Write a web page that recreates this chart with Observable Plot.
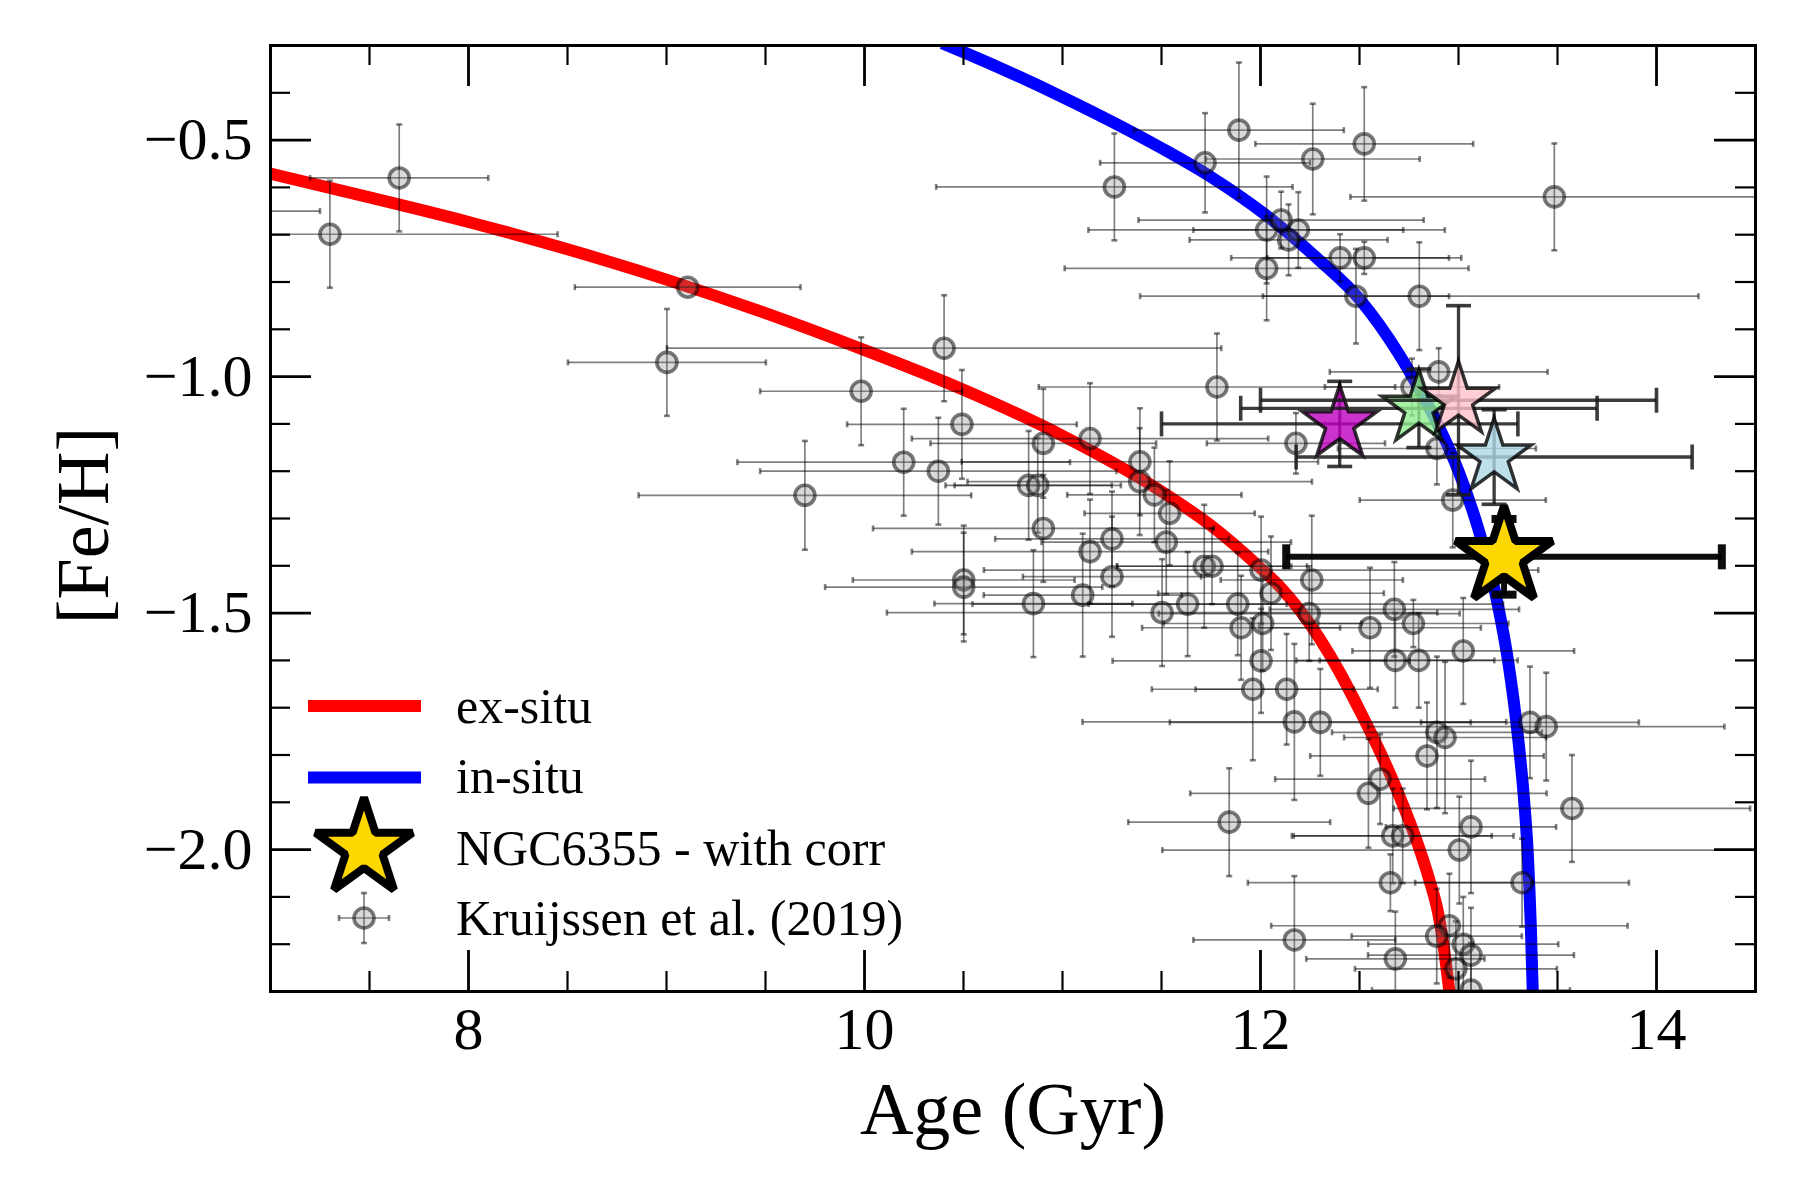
<!DOCTYPE html>
<html>
<head>
<meta charset="utf-8">
<script src="https://cdn.jsdelivr.net/npm/d3@7"></script>
<script src="https://cdn.jsdelivr.net/npm/@observablehq/plot@0.6"></script>
<style>
  html, body { margin: 0; padding: 0; background: #ffffff; }
  #chart { width: 1800px; height: 1200px; }
</style>
</head>
<body>
<div id="chart"></div>
<script>
// ---------------- DATA ----------------
// Age-metallicity relations
const exsituAge = [7.0, 7.5, 8.0, 8.5, 9.0, 9.5, 10.0, 10.5, 11.0, 11.5, 11.75, 12.0, 12.1, 12.2, 12.3, 12.4, 12.5, 12.6, 12.7, 12.8, 12.85, 12.9, 12.925, 12.954];
const exsituFeH = [-0.571, -0.621, -0.673, -0.731, -0.795, -0.866, -0.944, -1.028, -1.125, -1.243, -1.315, -1.405, -1.445, -1.495, -1.555, -1.625, -1.705, -1.790, -1.885, -1.995, -2.060, -2.140, -2.205, -2.300];

const insituAge = [10.42, 10.5, 11.0, 11.5, 11.75, 12.0, 12.3, 12.5, 12.7, 12.8, 12.9, 13.0, 13.1, 13.2, 13.25, 13.3, 13.33, 13.35, 13.365, 13.375];
const insituFeH = [-0.300, -0.314, -0.409, -0.517, -0.578, -0.650, -0.755, -0.836, -0.953, -1.025, -1.105, -1.200, -1.322, -1.485, -1.600, -1.760, -1.889, -2.009, -2.159, -2.300];

// Kruijssen et al. (2019) globular clusters
const krAge = [7.65, 7.30, 6.55, 9.107, 9.002, 9.983, 10.198, 9.699, 11.891, 11.720, 12.264, 12.524, 11.262, 12.031, 12.191, 12.104, 12.142, 12.031, 12.402, 12.524, 12.482, 12.802, 10.402, 11.780, 13.484, 10.492, 10.373, 10.903, 11.139, 11.391, 11.390, 11.464, 11.541, 11.524, 10.903, 10.829, 10.875, 11.139, 11.250, 10.501, 10.501, 10.853, 11.102, 11.250, 11.716, 11.755, 11.632, 11.503, 11.885, 11.902, 12.011, 12.003, 12.053, 12.246, 12.259, 12.003, 12.179, 12.900, 12.765, 12.891, 12.971, 12.676, 12.772, 12.553, 13.024, 12.681, 12.799, 11.961, 12.132, 12.171, 12.302, 11.842, 12.171, 13.361, 13.443, 12.891, 12.932, 12.841, 12.604, 12.545, 13.573, 13.063, 12.668, 12.718, 13.004, 12.656, 13.321, 12.954, 12.890, 13.024, 13.063, 12.681, 12.987, 13.063];
const krFeH = [-0.580, -0.699, -0.650, -0.811, -0.970, -1.031, -1.181, -1.251, -0.479, -0.548, -0.540, -0.508, -0.599, -0.690, -0.690, -0.669, -0.711, -0.771, -0.749, -0.749, -0.830, -0.830, -0.940, -1.022, -0.620, -1.101, -1.200, -1.141, -1.131, -1.180, -1.222, -1.250, -1.289, -1.350, -1.321, -1.230, -1.230, -1.370, -1.423, -1.430, -1.445, -1.480, -1.462, -1.343, -1.401, -1.401, -1.481, -1.499, -1.481, -1.531, -1.522, -1.409, -1.458, -1.501, -1.430, -1.601, -1.141, -0.990, -1.022, -1.152, -1.261, -1.492, -1.522, -1.531, -1.580, -1.600, -1.600, -1.661, -1.661, -1.730, -1.731, -1.942, -2.191, -1.731, -1.740, -1.752, -1.763, -1.802, -1.851, -1.881, -1.913, -1.952, -1.971, -1.971, -2.001, -2.070, -2.070, -2.161, -2.183, -2.200, -2.223, -2.231, -2.252, -2.297];
const krAgeErr = [0.45, 1.15, 0.70, 0.57, 0.50, 0.51, 0.84, 0.84, 0.53, 0.53, 0.54, 0.55, 0.90, 0.90, 0.53, 0.72, 0.50, 1.02, 0.55, 0.49, 0.47, 1.41, 1.40, 0.90, 1.03, 0.58, 0.90, 0.57, 0.90, 0.90, 0.87, 0.44, 0.43, 0.63, 0.86, 0.42, 0.42, 0.90, 0.45, 0.56, 0.70, 0.50, 0.50, 0.59, 0.44, 0.48, 0.50, 1.39, 1.34, 0.50, 0.50, 1.40, 0.57, 0.76, 0.46, 0.75, 0.45, 0.55, 0.44, 0.50, 0.47, 0.63, 0.48, 0.56, 0.56, 0.50, 0.50, 0.51, 0.46, 1.07, 0.76, 0.51, 0.51, 0.55, 0.90, 0.53, 0.51, 0.59, 0.53, 0.90, 0.90, 0.43, 0.50, 0.56, 1.50, 0.72, 0.54, 0.90, 0.43, 0.48, 0.52, 0.45, 0.51, 0.50];
const krFeHErr = [0.113, 0.113, 0.11, 0.0, 0.113, 0.114, 0.113, 0.115, 0.143, 0.105, 0.117, 0.12, 0.113, 0.113, 0.08, 0.06, 0.075, 0.11, 0.05, 0.034, 0.10, 0.114, 0.112, 0.113, 0.113, 0.115, 0.113, 0.115, 0.117, 0.113, 0.113, 0.10, 0.11, 0.11, 0.113, 0.115, 0.10, 0.11, 0.127, 0.115, 0.115, 0.113, 0.13, 0.10, 0.13, 0.08, 0.11, 0.113, 0.108, 0.11, 0.10, 0.113, 0.12, 0.10, 0.136, 0.11, 0.064, 0.05, 0.06, 0.076, 0.10, 0.10, 0.05, 0.127, 0.112, 0.10, 0.10, 0.15, 0.117, 0.165, 0.113, 0.114, 0.135, 0.118, 0.114, 0.16, 0.16, 0.113, 0.095, 0.115, 0.113, 0.14, 0.10, 0.10, 0.113, 0.06, 0.093, 0.11, 0.10, 0.10, 0.10, 0.10, 0.10, 0.10];

// Star symbols (last one is NGC6355, the highlighted cluster)
const starLabels = ["magenta", "green", "pink", "lightblue", "NGC6355 - with corr"];
const starAge = [12.40, 12.80, 13.00, 13.18, 13.23];
const starFeH = [-1.100, -1.067, -1.050, -1.170, -1.381];
const starAgeErr = [0.90, 0.90, 1.00, 1.00, 1.10];
const starFeHErr = [0.09, 0.083, 0.20, 0.10, 0.08];

// Axes
const xDomain = [7, 14.5];
const yDomain = [-2.3, -0.3];
const xMajorTicks = [8, 10, 12, 14];
const xMinorTicks = [7.5, 8.5, 9, 9.5, 10.5, 11, 11.5, 12.5, 13, 13.5];
const yMajorTicks = [-2.0, -1.5, -1.0, -0.5];
const yMinorTicks = [-2.2, -2.1, -1.9, -1.8, -1.7, -1.6, -1.4, -1.3, -1.2, -1.1, -0.9, -0.8, -0.7, -0.6, -0.4];
const xLabel = "Age (Gyr)";
const yLabel = "[Fe/H]";
const legendLabels = ["ex-situ", "in-situ", "NGC6355 - with corr", "Kruijssen et al. (2019)"];

// ---------------- STYLE ----------------
const FONT = "'Liberation Serif', 'Times New Roman', serif";
const W = 1800, H = 1200;
const M = {left: 270, right: 45, top: 45, bottom: 209};
const plotW = W - M.left - M.right;
const plotH = H - M.top - M.bottom;
const starColors = ["#bf00bf", "#90ee90", "#ffc0cb", "#add8e6", "#ffd700"];
const LINE_W = 12;

// ---------------- BUILD ----------------
const exsitu = exsituAge.map((a, i) => ({age: a, feh: exsituFeH[i]}));
const insitu = insituAge.map((a, i) => ({age: a, feh: insituFeH[i]}));
const kr = krAge.map((a, i) => ({age: a, feh: krFeH[i], xe: krAgeErr[i], ye: krFeHErr[i]}));
const stars = starAge.map((a, i) => ({age: a, feh: starFeH[i], xe: starAgeErr[i], ye: starFeHErr[i], label: starLabels[i], color: starColors[i]}));

const vCap = {draw(ctx, size) { const h = Math.sqrt(size / Math.PI); ctx.moveTo(0, -h); ctx.lineTo(0, h); }};
const hCap = {draw(ctx, size) { const h = Math.sqrt(size / Math.PI); ctx.moveTo(-h, 0); ctx.lineTo(h, 0); }};

function errorBars(data, s) {
  const withY = data.filter(d => d.ye > 0);
  const common = {stroke: s.stroke, strokeOpacity: s.opacity, clip: true};
  return [
    Plot.link(data, {x1: d => d.age - d.xe, x2: d => d.age + d.xe, y1: "feh", y2: "feh", strokeWidth: s.width, ...common}),
    Plot.link(withY, {x1: "age", x2: "age", y1: d => d.feh - d.ye, y2: d => d.feh + d.ye, strokeWidth: s.width, ...common}),
    Plot.dot(data, {x: d => d.age - d.xe, y: "feh", symbol: vCap, r: s.cap, fill: "none", strokeWidth: s.capW, ...common}),
    Plot.dot(data, {x: d => d.age + d.xe, y: "feh", symbol: vCap, r: s.cap, fill: "none", strokeWidth: s.capW, ...common}),
    Plot.dot(withY, {x: "age", y: d => d.feh - d.ye, symbol: hCap, r: s.cap, fill: "none", strokeWidth: s.capW, ...common}),
    Plot.dot(withY, {x: "age", y: d => d.feh + d.ye, symbol: hCap, r: s.cap, fill: "none", strokeWidth: s.capW, ...common})
  ];
}

const STAR_R = 23.3, GOLD_R = 30.5;
const starMarks = stars.flatMap((s, i) => {
  const gold = i === stars.length - 1;
  return [
    ...errorBars([s], gold
      ? {stroke: "#000", opacity: 0.95, width: 6, cap: 12.5, capW: 8}
      : {stroke: "#1a1a1a", opacity: 0.85, width: 3.3, cap: 12.5, capW: 3.6}),
    Plot.dot([s], {x: "age", y: "feh", symbol: "star", r: gold ? GOLD_R : STAR_R,
      fill: s.color, fillOpacity: gold ? 1 : 0.8,
      stroke: "#000", strokeOpacity: gold ? 1 : 0.8, strokeWidth: gold ? 8 : 3.5,
      strokeLinejoin: gold ? "bevel" : "miter", clip: true})
  ];
});

const chart = Plot.plot({
  width: W, height: H,
  marginLeft: M.left, marginRight: M.right, marginTop: M.top, marginBottom: M.bottom,
  style: {fontFamily: FONT, background: "#ffffff", color: "#000"},
  x: {domain: xDomain, axis: null},
  y: {domain: yDomain, axis: null},
  marks: [
    Plot.line(exsitu, {x: "age", y: "feh", stroke: "#ff0000", strokeWidth: LINE_W, curve: "monotone-x", strokeLinecap: "square", clip: true}),
    Plot.line(insitu, {x: "age", y: "feh", stroke: "#0000ff", strokeWidth: LINE_W, curve: "monotone-x", strokeLinecap: "square", clip: true}),
    ...errorBars(kr, {stroke: "#000", opacity: 0.5, width: 1.7, cap: 3, capW: 2.6}),
    Plot.dot(kr, {x: "age", y: "feh", r: 10, fill: "#808080", fillOpacity: 0.3, stroke: "#000", strokeOpacity: 0.52, strokeWidth: 3.6, clip: true}),
    ...starMarks,
    // ticks (inside, all four sides)
    Plot.ruleX(xMajorTicks, {x: d => d, insetTop: plotH - 41, strokeWidth: 2.8}),
    Plot.ruleX(xMajorTicks, {x: d => d, insetBottom: plotH - 41, strokeWidth: 2.8}),
    Plot.ruleX(xMinorTicks, {x: d => d, insetTop: plotH - 20, strokeWidth: 2.2}),
    Plot.ruleX(xMinorTicks, {x: d => d, insetBottom: plotH - 20, strokeWidth: 2.2}),
    Plot.ruleY(yMajorTicks, {y: d => d, insetRight: plotW - 41, strokeWidth: 2.8}),
    Plot.ruleY(yMajorTicks, {y: d => d, insetLeft: plotW - 41, strokeWidth: 2.8}),
    Plot.ruleY(yMinorTicks, {y: d => d, insetRight: plotW - 20, strokeWidth: 2.2}),
    Plot.ruleY(yMinorTicks, {y: d => d, insetLeft: plotW - 20, strokeWidth: 2.2}),
    Plot.frame({stroke: "#000", strokeWidth: 3}),
    // tick labels
    Plot.text(xMajorTicks, {x: d => d, text: d => String(d), frameAnchor: "bottom", textAnchor: "middle", lineAnchor: "top", dy: 15, fontSize: 60, fill: "#000"}),
    Plot.text(yMajorTicks, {y: d => d, text: d => d3.format(".1f")(d), frameAnchor: "left", textAnchor: "end", dx: -18, fontSize: 60, fill: "#000"}),
    // axis labels
    Plot.text([xLabel], {frameAnchor: "bottom", textAnchor: "middle", lineAnchor: "bottom", dy: 142, fontSize: 74, fill: "#000"}),
    Plot.text([yLabel], {frameAnchor: "left", textAnchor: "middle", rotate: -90, lineAnchor: "bottom", dx: -163, dy: 7, fontSize: 74, fill: "#000"})
  ]
});

document.getElementById("chart").appendChild(chart);

// ---------------- LEGEND (layout only) ----------------
const svg = d3.select(chart);
const lg = svg.append("g").attr("font-family", FONT).attr("font-size", 50)
  .attr("fill", "#000").attr("text-anchor", "start");
const rowY = [706, 777.5, 848.5, 918];
const baseY = [723, 793, 865, 935];
const textX = 456, symX = 364;
[["#ff0000", 0], ["#0000ff", 1]].forEach(([c, i]) => {
  lg.append("line").attr("x1", 308).attr("x2", 421).attr("y1", rowY[i]).attr("y2", rowY[i])
    .attr("stroke", c).attr("stroke-width", LINE_W);
});
lg.append("path")
  .attr("d", d3.symbol(d3.symbolStar, GOLD_R * GOLD_R * Math.PI)())
  .attr("transform", `translate(${symX},${rowY[2]})`)
  .attr("fill", starColors[4]).attr("stroke", "#000").attr("stroke-width", 8).attr("stroke-linejoin", "bevel");
const gm = lg.append("g").attr("transform", `translate(${symX},${rowY[3]})`);
gm.append("line").attr("x1", -25).attr("x2", 25).attr("stroke", "#000").attr("stroke-opacity", 0.5).attr("stroke-width", 1.7);
gm.append("line").attr("y1", -25).attr("y2", 25).attr("stroke", "#000").attr("stroke-opacity", 0.5).attr("stroke-width", 1.7);
[[-25, 0, 0, 3], [25, 0, 0, 3], [0, -25, 3, 0], [0, 25, 3, 0]].forEach(([x, y, hx, hy]) => {
  gm.append("line").attr("x1", x - hx).attr("x2", x + hx).attr("y1", y - hy).attr("y2", y + hy)
    .attr("stroke", "#000").attr("stroke-opacity", 0.5).attr("stroke-width", 2.6);
});
gm.append("circle").attr("r", 10).attr("fill", "#808080").attr("fill-opacity", 0.3)
  .attr("stroke", "#000").attr("stroke-opacity", 0.52).attr("stroke-width", 3.6);
legendLabels.forEach((t, i) => {
  lg.append("text").attr("x", textX).attr("y", baseY[i]).attr("text-anchor", "start").text(t);
});
</script>
</body>
</html>
